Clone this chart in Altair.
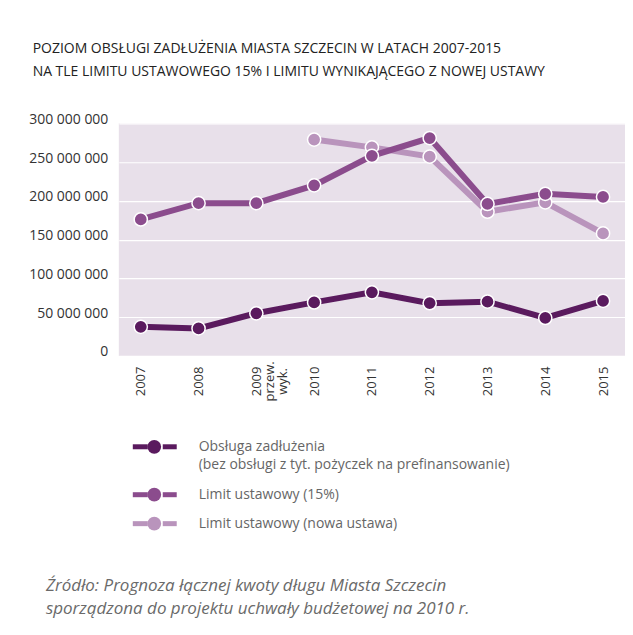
import altair as alt
import pandas as pd

years = ["2007", "2008", "2009", "2010", "2011", "2012", "2013", "2014", "2015"]
tick_labels = ["2007", "2008", "2009|przew.|wyk.", "2010", "2011", "2012", "2013", "2014", "2015"]

series_names = [
    "Obsługa zadłużenia",
    "Limit ustawowy (15%)",
    "Limit ustawowy (nowa ustawa)",
]
legend_sub = ["(bez obsługi z tyt. pożyczek na prefinansowanie)", "", ""]

obsluga = [37.5e6, 35.5e6, 55e6, 69e6, 82e6, 68e6, 70e6, 49e6, 71e6]
limit15 = [176e6, 197e6, 197e6, 220e6, 258e6, 281e6, 196e6, 209e6, 205e6]
limit_new_years = ["2010", "2011", "2012", "2013", "2014", "2015"]
limit_new = [279e6, 269e6, 257e6, 186e6, 198e6, 158e6]

y_ticks = [0, 50e6, 100e6, 150e6, 200e6, 250e6, 300e6]

footer_lines = [
    "Źródło: Prognoza łącznej kwoty długu Miasta Szczecin",
    "sporządzona do projektu uchwały budżetowej na 2010 r.",
]

colors = ["#5a1a5e", "#8b4c8d", "#b994bc"]

rows = []
for y, v in zip(years, obsluga):
    rows.append({"year": y, "value": v, "series": series_names[0]})
for y, v in zip(years, limit15):
    rows.append({"year": y, "value": v, "series": series_names[1]})
for y, v in zip(limit_new_years, limit_new):
    rows.append({"year": y, "value": v, "series": series_names[2]})
df = pd.DataFrame(rows)

FONT = "Open Sans"

label_map = "{" + ",".join(f"'{y}':'{t}'" for y, t in zip(years, tick_labels)) + "}"

color_scale = alt.Scale(domain=series_names, range=colors)

x_enc = alt.X(
    "year:N",
    sort=years,
    scale=alt.Scale(type="point", padding=0.38),
    axis=alt.Axis(
        title=None,
        labelAngle=-90,
        labelAlign="center",
        labelBaseline="middle",
        labelPadding=25,
        ticks=False,
        domain=False,
        grid=False,
        labelExpr=f"split({label_map}[datum.value], '|')",
        labelFont=FONT,
        labelFontSize=13,
        labelColor="#333333",
        labelLineHeight=13,
    ),
)
y_enc = alt.Y(
    "value:Q",
    scale=alt.Scale(domain=[0, 300e6], nice=False),
    axis=alt.Axis(
        title=None,
        values=y_ticks,
        labelExpr="replace(format(datum.value, ',d'), /,/g, ' ')",
        ticks=False,
        domain=False,
        gridColor="white",
        gridWidth=1.2,
        labelPadding=11,
        labelOffset=-4,
        labelFont=FONT,
        labelFontSize=14,
        labelColor="#333333",
    ),
)

layers = []
for name in reversed(series_names):
    sub = df[df["series"] == name]
    base = alt.Chart(sub).encode(
        x=x_enc, y=y_enc,
        color=alt.Color("series:N", scale=color_scale, legend=None),
    )
    layers.append(base.mark_line(strokeWidth=6))
    layers.append(base.mark_circle(size=175, opacity=1, stroke="white", strokeWidth=1.5))

main = alt.layer(*layers).properties(
    width=507,
    height=233,
    view=alt.ViewBackground(fill="#e8e0ea", stroke=None),
    title=alt.TitleParams(
        text=[
            "POZIOM OBSŁUGI ZADŁUŻENIA MIASTA SZCZECIN W LATACH 2007-2015",
            "NA TLE LIMITU USTAWOWEGO 15% I LIMITU WYNIKAJĄCEGO Z NOWEJ USTAWY",
        ],
        anchor="start",
        font=FONT,
        fontSize=14,
        fontWeight="normal",
        color="#222222",
        lineHeight=23,
        offset=33,
        dx=4,
    ),
)

leg_df = pd.DataFrame({"series": series_names, "sub": legend_sub})
leg_color = alt.Color("series:N", scale=color_scale, legend=None)
row_pos = [45, 93, 122]

bottom_layers = []
for name, ry in zip(series_names, row_pos):
    b = alt.Chart(leg_df).transform_filter(alt.datum.series == name).encode(color=leg_color)
    bottom_layers.append(b.mark_rule(strokeWidth=5).encode(x=alt.value(14), x2=alt.value(29), y=alt.value(ry)))
    bottom_layers.append(b.mark_rule(strokeWidth=5).encode(x=alt.value(44), x2=alt.value(58), y=alt.value(ry)))
    bottom_layers.append(b.mark_circle(size=190, opacity=1).encode(x=alt.value(35.5), y=alt.value(ry)))
    bottom_layers.append(
        alt.Chart(leg_df).transform_filter(alt.datum.series == name).mark_text(
            align="left", baseline="middle", font=FONT, fontSize=14, color="#666666"
        ).encode(x=alt.value(80), y=alt.value(ry), text="series:N")
    )
    bottom_layers.append(
        alt.Chart(leg_df).transform_filter(alt.datum.series == name).mark_text(
            align="left", baseline="middle", font=FONT, fontSize=14, color="#666666", dy=18
        ).encode(x=alt.value(80), y=alt.value(ry), text="sub:N")
    )

foot_df = pd.DataFrame({"line": footer_lines})
for line, fy in zip(footer_lines, [184, 207]):
    bottom_layers.append(
        alt.Chart(foot_df).transform_filter(alt.datum.line == line).mark_text(
            align="left", baseline="middle", font=FONT, fontSize=17,
            fontStyle="italic", color="#6a6a6a"
        ).encode(x=alt.value(-73), y=alt.value(fy), text="line:N")
    )

bottom = alt.layer(*bottom_layers).properties(
    width=507, height=216,
    view=alt.ViewBackground(fill=None, stroke=None),
)

chart = alt.vconcat(main, bottom, spacing=0).properties(
    padding={"left": 20, "top": 34, "right": 0, "bottom": 0},
    background="white",
).configure_view(stroke=None)

chart.save("out.html", embed_options={"renderer": "svg", "actions": False})
